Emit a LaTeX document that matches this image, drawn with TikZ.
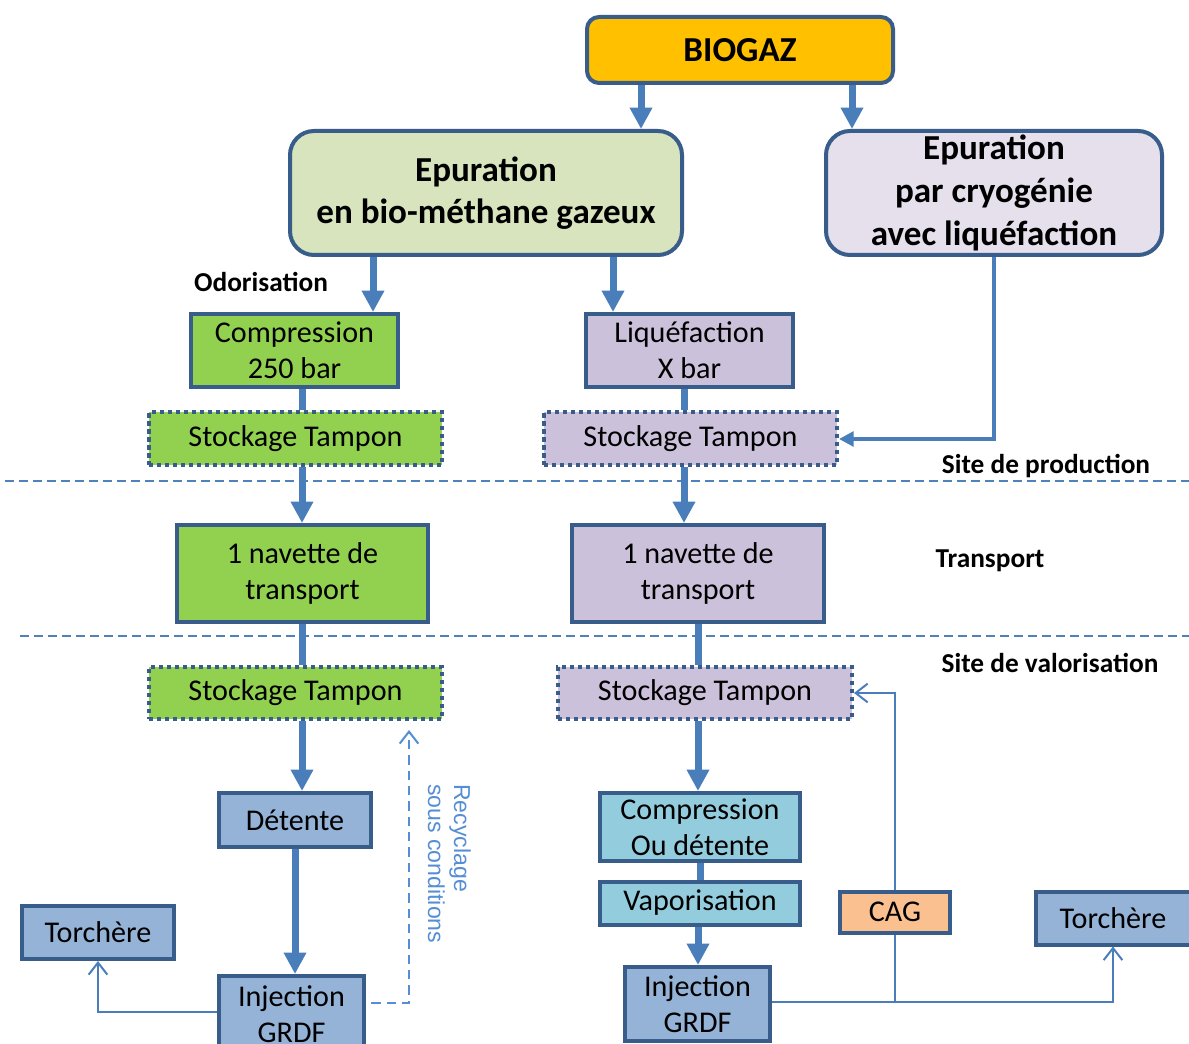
\documentclass[tikz,border=0pt]{standalone}
\usepackage{fontspec}
\setmainfont{Carlito}
\newfontfamily\arialfont{Liberation Sans}
\usetikzlibrary{arrows.meta}

\definecolor{edgeblue}{HTML}{385D8A}
\definecolor{flowblue}{HTML}{4A7EBB}
\definecolor{sepblue}{HTML}{4F81BD}
\definecolor{noteblue}{HTML}{558ED5}
\definecolor{gold}{HTML}{FFC000}
\definecolor{palegreen}{HTML}{D7E4BD}
\definecolor{palelilac}{HTML}{E5E0EC}
\definecolor{leafgreen}{HTML}{92D050}
\definecolor{lilac}{HTML}{CCC1DA}
\definecolor{steelblue}{HTML}{95B3D7}
\definecolor{aqua}{HTML}{93CDDD}
\definecolor{peach}{HTML}{FAC090}

\tikzset{
  box/.style={draw=edgeblue, line width=3pt, inner sep=0pt, align=center,
    font=\fontsize{22.6}{26.8}\selectfont},
  bigbox/.style={box, rounded corners=18pt, font=\fontsize{26.3}{32}\selectfont\bfseries},
  dotbox/.style={box, dash pattern=on 3.2pt off 2.8pt},
  sz/.style 2 args={minimum width=0.75pt*#1, minimum height=0.75pt*#2},
  zonelabel/.style={font=\fontsize{20.5}{24}\selectfont\bfseries, inner sep=0pt},
  flow/.style={draw=flowblue, line width=5.25pt, -{Triangle[length=16pt,width=16pt]}},
  pipe/.style={draw=flowblue, line width=5.25pt},
  feed/.style={draw=flowblue, line width=3pt, -{Triangle[length=11pt,width=11pt]}},
  branch/.style={draw=flowblue, line width=1.5pt, -{Straight Barb[length=9pt,width=14pt]}},
  tap/.style={draw=flowblue, line width=1.5pt},
  recycle/.style={draw=noteblue, line width=1.5pt, dash pattern=on 7pt off 4.5pt,
    -{Straight Barb[length=9pt,width=14pt]}},
  separator/.style={draw=sepblue, line width=1.1pt, dash pattern=on 6.5pt off 4pt},
}

\begin{document}
\begin{tikzpicture}[x=0.75pt, y=-0.75pt]
  \fill[white] (0,0) rectangle (1189,1044);
  \useasboundingbox (0,0) rectangle (1189,1044);

  % zone separators
  \coordinate (sepA0) at (5,481);   \coordinate (sepA1) at (1189,481);
  \coordinate (sepB0) at (20,636);  \coordinate (sepB1) at (1189,636);
  \draw[separator] (sepA0) -- (sepA1);
  \draw[separator] (sepB0) -- (sepB1);

  % top of the chain
  \node[bigbox, rounded corners=9pt, fill=gold, sz={306}{66}] (biogaz) at (740,50) {BIOGAZ};
  \node[bigbox, fill=palegreen, sz={392}{124}] (ep1) at (486,193) {Epuration\\en bio-méthane gazeux};
  \node[bigbox, fill=palelilac, sz={336}{124}] (ep2) at (994,193) {Epuration\\par cryogénie\\avec liquéfaction};

  % production site
  \node[box, fill=leafgreen, sz={207}{73}] (comp1) at (294.5,350.5) {Compression\\250 bar};
  \node[box, fill=lilac, sz={207}{73}] (liq) at (689.5,350.5) {Liquéfaction\\X bar};
  \node[dotbox, fill=leafgreen, sz={293}{53}] (st1) at (295.5,439) {Stockage Tampon};
  \node[dotbox, fill=lilac, sz={293}{53}] (st2) at (690.5,439) {Stockage Tampon};

  % transport
  \node[box, fill=leafgreen, sz={251}{97}] (nav1) at (302.5,573.5) {1 navette de\\transport};
  \node[box, fill=lilac, sz={252}{97}] (nav2) at (698,573.5) {1 navette de\\transport};

  % valorisation site
  \node[dotbox, fill=leafgreen, sz={293}{52}] (st3) at (295.5,693) {Stockage Tampon};
  \node[dotbox, fill=lilac, sz={294}{52}] (st4) at (705,693) {Stockage Tampon};
  \node[box, fill=steelblue, sz={152}{54}] (det) at (295,820) {Détente};
  \node[box, fill=steelblue, sz={152}{53}] (torch1) at (98,932.5) {Torchère};
  \node[box, fill=steelblue, sz={145}{76}] (inj1) at (291.5,1014) {Injection\\GRDF};
  \node[box, fill=aqua, sz={200}{68}] (comp2) at (700,827) {Compression\\Ou détente};
  \node[box, fill=aqua, sz={200}{43}] (vap) at (700,903) {Vaporisation};
  \node[box, fill=steelblue, sz={145}{74}] (inj2) at (697.5,1004) {Injection\\GRDF};
  \node[box, fill=peach, sz={110}{41}] (cag) at (895,912) {CAG};
  \node[box, fill=steelblue, sz={155}{53}] (torch2) at (1113,918) {Torchère};

  % zone and step labels
  \node[zonelabel] (odor) at (261,282) {Odorisation};
  \node[zonelabel] (prod) at (1046,466) {Site de production};
  \node[zonelabel] (trans) at (990,561) {Transport};
  \node[zonelabel] (valo) at (1050,663) {Site de valorisation};
  \node[font=\arialfont\fontsize{17.3}{19.5}\selectfont, text=noteblue, align=left,
        inner sep=0pt, rotate=-90, anchor=north west] (recytext) at (471,784)
        {Recyclage\\sous conditions};

  % column positions of the vertical connectors
  \coordinate (xa) at (641,0);
  \coordinate (xb) at (852,0);
  \coordinate (xc) at (373,0);
  \coordinate (xd) at (613,0);
  \coordinate (xe) at (302,0);
  \coordinate (xf) at (684,0);
  \coordinate (xg) at (698,0);
  \coordinate (yleft) at (0,1012);
  \coordinate (ydash) at (0,1003);
  \coordinate (yright) at (0,1002);
  \coordinate (recytip) at (409,730);

  % main flows
  \draw[flow] (biogaz.south -| xa) -- (ep1.north -| xa);
  \draw[flow] (biogaz.south -| xb) -- (ep2.north -| xb);
  \draw[flow] (ep1.south -| xc) -- (comp1.north -| xc);
  \draw[flow] (ep1.south -| xd) -- (liq.north -| xd);
  \draw[pipe] (comp1.south -| xe) -- (st1.north -| xe);
  \draw[pipe] (liq.south -| xf) -- (st2.north -| xf);
  \draw[feed] (ep2.south) |- (st2.east);
  \draw[flow] (st1.south -| xe) -- (nav1.north -| xe);
  \draw[flow] (st2.south -| xf) -- (nav2.north -| xf);
  \draw[pipe] (nav1.south -| xe) -- (st3.north -| xe);
  \draw[pipe] (nav2.south) -- (st4.north -| nav2.south);
  \draw[flow] (st3.south -| xe) -- (det.north -| xe);
  \draw[flow] (det.south) -- (inj1.north -| det.south);
  \draw[flow] (st4.south -| xg) -- (comp2.north -| xg);
  \draw[pipe] (comp2.south) -- (vap.north);
  \draw[flow] (vap.south -| xg) -- (inj2.north -| xg);

  % secondary outlets
  \draw[branch] (inj1.west |- yleft) -| (torch1.south);
  \draw[recycle, shorten <=4pt] (inj1.east |- ydash) -| (recytip);
  \draw[branch] (inj2.east |- yright) -| (torch2.south);
  \draw[tap] (cag.south |- yright) -- (cag.south);
  \draw[branch] (cag.north) |- (st4.east);
\end{tikzpicture}
\end{document}
